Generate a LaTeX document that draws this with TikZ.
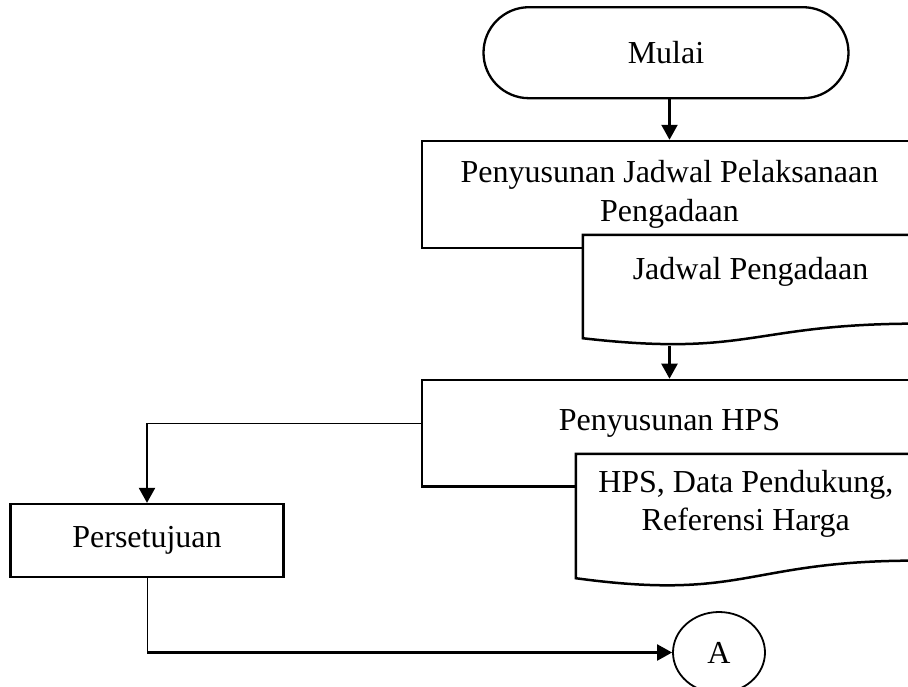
\documentclass[tikz,border=0pt]{standalone}
\usepackage{fontspec}
\setmainfont{Liberation Serif}
\usetikzlibrary{arrows.meta,positioning,shapes.misc,shapes.geometric,calc}

% document symbol drawn round an empty node
\newcommand{\docline}[1]{%
  \draw[box, fill=white] (#1.north west) -- (#1.north east)
    -- ($(#1.north east)!0.802!(#1.south east)$)
    .. controls ($(#1.north)!0.802!(#1.south)$) and ($(#1.north)!1.1075!(#1.south)$)
    .. ($(#1.north west)!0.934!(#1.south west)$) -- cycle;}

\begin{document}
\begin{tikzpicture}[
  x=1pt, y=-1pt,
  txt/.style={font=\fontsize{32}{38.5}\selectfont, align=center},
  box/.style={line width=2.5pt},
  term/.style={draw, rounded rectangle, line width=2.3pt, minimum width=365pt,
               minimum height=91pt, inner sep=0pt, txt},
  proc/.style={draw, rectangle, box, fill=white, inner sep=0pt, txt},
  docbox/.style={rectangle, inner sep=0pt},
  conn/.style={draw, ellipse, line width=1.8pt, minimum width=92pt,
               minimum height=81pt, inner sep=0pt, txt},
  arr/.style={-{Triangle[length=15pt,width=16pt]}, line width=2.3pt},
  thinline/.style={line width=1pt}
]
  \clip (0,0) rectangle (908,686);

  \node[term] (mulai) at (666,52.7) {Mulai};

  \node[proc, minimum width=495pt, minimum height=107pt] (susun) at (669.5,194.5)
    {Penyusunan Jadwal Pelaksanaan\\Pengadaan};
  \node[docbox, minimum width=335pt, minimum height=110.3pt] (jadwal) at (750.5,290.2) {};
  \docline{jadwal}
  \node[txt] (jadwaltxt) at (750.5,271.5) {Jadwal Pengadaan};

  \node[proc, minimum width=495pt, minimum height=106.7pt] (hps) at (669.5,433.3) {};
  \node[txt] (hpstxt) at (669.5,423.6) {Penyusunan HPS};
  \node[docbox, minimum width=339.6pt, minimum height=132.8pt] (hpsdoc) at (745.8,520.4) {};
  \docline{hpsdoc}
  \node[txt] (hpsdoctxt) at (745.8,504) {HPS, Data Pendukung,\\Referensi Harga};

  \node[proc, line width=2.2pt, minimum width=273pt, minimum height=72.7pt] (setuju) at (147,540.3) {Persetujuan};
  \node[conn] (a) at (719,652.5) {A};

  % connectors
  \draw[arr] (mulai.south -| susun.north) -- (susun.north);
  \draw[arr] (jadwal.south -| hps.north) -- (hps.north);

  \coordinate (k0) at ([yshift=10pt]hps.west);
  \coordinate (k1) at (k0 -| setuju.north);
  \draw[thinline] (k0) -- (k1);
  \draw[arr] (k1) -- (setuju.north);

  \coordinate (k2) at (setuju.south |- a.west);
  \draw[thinline] (setuju.south) -- (k2);
  \draw[arr] (k2) -- (a.west);
\end{tikzpicture}
\end{document}
